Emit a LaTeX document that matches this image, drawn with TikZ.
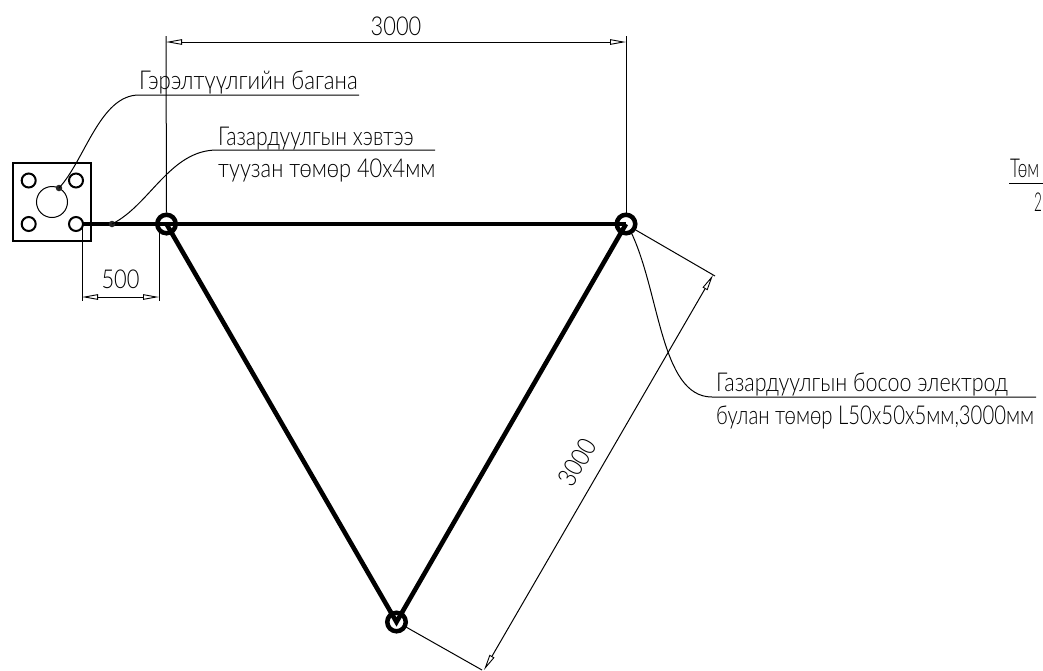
\documentclass[tikz,border=0pt]{standalone}
\usepackage{fontspec}
\usetikzlibrary{arrows.meta,calc}
\newfontfamily\cadfont[FakeStretch=0.84,UprightFont=* Light]{Lato}
\tikzset{
  thinline/.style={line width=1pt,black},
  plate/.style={line width=2pt,black},
  strip/.style={line width=4.6pt,black},
  hole/.style={circle,draw,line width=2pt,minimum size=14pt,inner sep=0pt},
  rod/.style={circle,draw,line width=4.5pt,minimum size=18.5pt,inner sep=0pt},
  bore/.style={circle,draw,line width=1pt,minimum size=31pt,inner sep=0pt},
  dotmark/.style={circle,fill=black!85,minimum size=6.5pt,inner sep=0pt},
  dimline/.style={thinline,{Triangle[open,length=16pt,width=5.5pt,line width=.9pt]}-{Triangle[open,length=16pt,width=5.5pt,line width=.9pt]}},
  txt/.style={font=\cadfont\fontsize{26}{26}\selectfont,inner sep=0pt,anchor=base west,transform shape},
  dimtxt/.style={font=\cadfont\fontsize{26}{26}\selectfont,inner sep=0pt,anchor=base}
}
\begin{document}
\begin{tikzpicture}[x=1pt,y=-1pt]
\useasboundingbox (0,0) rectangle (1043,670);
\clip (0,0) rectangle (1043,670);
% plate
\node[draw,plate,minimum size=78pt,inner sep=0pt] (base) at (52.3,202) {};
\node[hole] (h1) at (28.7,180.5) {};
\node[hole] (h2) at (76,180.5) {};
\node[hole] (h3) at (28.7,224) {};
\node[hole] (h4) at (76,224) {};
\node[bore] (pole) at (52,202) {};
\node[dotmark] (d1) at (59,188) {};
% rods
\node[rod] (A) at (166.5,224) {};
\node[rod] (B) at (626,224) {};
\node[rod] (C) at (396.5,622) {};
\coordinate (sA) at (166.5,224);
\coordinate (sB) at (626,224);
\coordinate (sC) at (396.5,622);
\coordinate (s0) at (82,224);
\draw[strip,line width=4pt] (s0) -- (A.center);
\draw[strip] (A.center) -- (sB);
\draw[strip] (sA) -- (sC) -- (sB);
\node[dotmark] (d2) at (112,224) {};
% dimension 3000 top
\coordinate (t1) at (166,42);
\coordinate (t2) at (626,42);
\coordinate (t1e) at (166,36);
\coordinate (t2e) at (626,36);
\draw[thinline] (t1e) -- (A.north);
\draw[thinline] (t2e) -- (B.north);
\draw[dimline] (t1) -- (t2);
\node[dimtxt] (tt) at (396,35) {3000};
% dimension 500
\coordinate (f1) at (82,297);
\coordinate (f2) at (159,297);
\coordinate (f1e) at (82,301);
\coordinate (f2e) at (159,301);
\coordinate (f1s) at (82,224);
\coordinate (f2s) at (159,231);
\draw[thinline] (f1s) -- (f1e);
\draw[thinline] (f2s) -- (f2e);
\draw[dimline] (f1) -- (f2);
\node[dimtxt] (ft) at (120.5,288) {500};
% slanted dimension
\coordinate (r1) at (713,275);
\coordinate (r2) at (484,670);
\coordinate (r1e) at (715,276);
\coordinate (r2e) at (482,670);
\coordinate (r1s) at (634,229);
\coordinate (r2s) at (406,627);
\draw[thinline] (r1s) -- (r1e);
\draw[thinline] (r2s) -- (r2e);
\draw[dimline] (r1) -- (r2);
\node[dimtxt,rotate=60] (rt) at (585,467) {3000};
% leaders
\coordinate (l1) at (139,95);
\coordinate (l1e) at (359,95);
\draw[thinline] (d1.center) .. controls (85,160) and (100,95) .. (l1) -- (l1e);
\coordinate (l2) at (217,150);
\coordinate (l2e) at (435,150);
\draw[thinline] (d2.center) .. controls (150,205) and (170,150) .. (l2) -- (l2e);
\coordinate (l3s) at (630,230);
\coordinate (l3) at (712,397);
\coordinate (l3e) at (1036,397);
\draw[thinline] (l3s) .. controls (660,290) and (660,397) .. (l3) -- (l3e);
\coordinate (l4) at (1009,183);
\coordinate (l4e) at (1043,183);
\draw[thinline] (l4) -- (l4e);
% labels
\node[txt,xscale=1.02] (a) at (139,89) {Гэрэлтүүлгийн багана};
\node[txt,xscale=.97] (b) at (218,145) {Газардуулгын хэвтээ};
\node[txt] (c) at (218,177) {туузан төмөр 40х4мм};
\node[txt,xscale=.985] (e) at (716,391) {Газардуулгын босоо электрод};
\node[txt,xscale=.93] (g) at (716,424) {булан төмөр L50x50x5мм,3000мм};
\node[txt,xscale=.78] (h) at (1010,177) {Төм};
\node[txt,xscale=.62] (i) at (1034,211) {2};
\end{tikzpicture}
\end{document}
